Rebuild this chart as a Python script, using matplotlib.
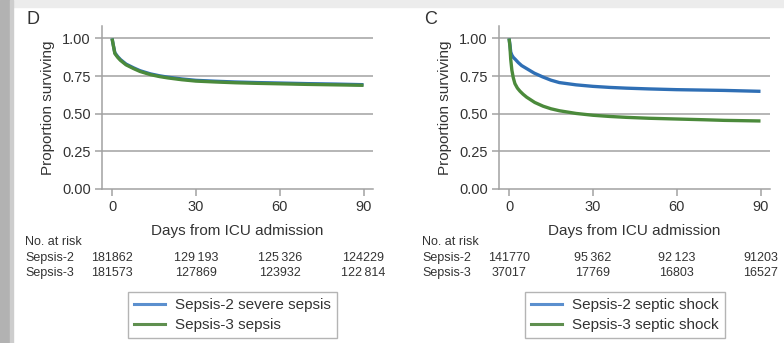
import numpy as np
import matplotlib
matplotlib.use('Agg')
import matplotlib.pyplot as plt
from matplotlib.patches import Rectangle
from matplotlib.transforms import blended_transform_factory

plt.rcParams['font.family'] = ['Liberation Sans', 'DejaVu Sans']

# panel D: severe sepsis vs sepsis
days_d = [0, 0.5, 1, 2, 3, 5, 7.7, 10, 13.7, 17, 20, 25, 30, 37, 44, 52, 60, 70, 80, 90]
d_sepsis2 = [1.0, 0.95, 0.905, 0.88, 0.86, 0.83, 0.805, 0.786, 0.765, 0.752, 0.743,
             0.731, 0.722, 0.716, 0.711, 0.707, 0.704, 0.700, 0.697, 0.693]
d_sepsis3 = [1.0, 0.95, 0.90, 0.875, 0.855, 0.825, 0.80, 0.781, 0.76, 0.747, 0.738,
             0.726, 0.717, 0.711, 0.706, 0.702, 0.699, 0.695, 0.692, 0.689]

# panel C: septic shock
days_c2 = [0, 0.3, 0.6, 1, 1.5, 2.3, 3.3, 4.5, 6.3, 9, 12, 15, 18, 24, 30, 36, 42,
           50, 60, 70, 77, 90]
c_sepsis2 = [1.0, 0.96, 0.91, 0.89, 0.875, 0.86, 0.84, 0.82, 0.80, 0.77, 0.745, 0.723,
             0.707, 0.692, 0.682, 0.675, 0.67, 0.665, 0.66, 0.657, 0.655, 0.649]
days_c3 = [0, 0.3, 0.6, 1, 1.5, 2.1, 3, 3.9, 5, 6.3, 9.2, 12.2, 15, 18, 24, 30, 36,
           42, 50, 60, 70, 77, 90]
c_sepsis3 = [1.0, 0.95, 0.86, 0.79, 0.74, 0.70, 0.67, 0.65, 0.63, 0.61, 0.575, 0.55,
             0.533, 0.52, 0.502, 0.49, 0.482, 0.476, 0.47, 0.465, 0.46, 0.456, 0.452]

risk_days = [0, 30, 60, 90]
d_risk2 = ['181862', '129\u2009193', '125\u2009326', '124229']
d_risk3 = ['181573', '127869', '123932', '122\u2009814']
c_risk2 = ['141770', '95\u2009362', '92\u2009123', '91203']
c_risk3 = ['37017', '17769', '16803', '16527']

BLUE = '#2f6fb5'
GREEN = '#4b8a3b'
GRAY = '#a2a2a2'
TXT = '#333333'

W, H = 784, 343
fig = plt.figure(figsize=(W / 100, H / 100), dpi=100)

# gray page edges from the source scan
fig.patches.append(Rectangle((0, (H - 7) / H), 1, 7 / H, transform=fig.transFigure,
                             color='#ececec', zorder=-5))
fig.patches.append(Rectangle((0, 0), 10 / W, 1, transform=fig.transFigure,
                             color='#b2b2b2', zorder=-4))
fig.patches.append(Rectangle((10 / W, 0), 3 / W, 1, transform=fig.transFigure,
                             color='#cdcdcd', zorder=-4))


def px_axes(left, top, width, height):
    return fig.add_axes([left / W, (H - top - height) / H, width / W, height / H])


def panel(left, letter, curves, risk2, risk3, labels):
    ax = px_axes(left, 26, 271, 163)
    for (x, y), c in zip(curves, [BLUE, GREEN]):
        ax.plot(x, y, color=c, lw=2.4, solid_capstyle='butt')
    ax.set_xlim(-3.6, 93.4)
    ax.set_ylim(0, 1.083)
    ax.set_xticks([0, 30, 60, 90])
    ax.set_yticks([0, 0.25, 0.5, 0.75, 1.0])
    ax.set_yticklabels(['0.00', '0.25', '0.50', '0.75', '1.00'])
    for v in [0.25, 0.5, 0.75, 1.0]:
        ax.axhline(v, color=GRAY, lw=1.1, zorder=0)
    for s in ['top', 'right']:
        ax.spines[s].set_visible(False)
    for s in ['left', 'bottom']:
        ax.spines[s].set_color(GRAY)
        ax.spines[s].set_linewidth(1.1)
    ax.tick_params(colors=GRAY, labelcolor=TXT, labelsize=10.5, length=5, width=1.1,
                   pad=3)
    ax.set_ylabel('Proportion surviving', fontsize=11, color=TXT, labelpad=5)
    ax.set_xlabel('Days from ICU admission', fontsize=11, color=TXT, labelpad=7)
    ax.patch.set_visible(False)

    fig.text((left - 75) / W, (H - 20) / H, letter, fontsize=13, color=TXT,
             va='center', ha='left')

    tr = blended_transform_factory(ax.transData, fig.transFigure)
    rows = [('No. at risk', 242), ('Sepsis-2', 258), ('Sepsis-3', 273)]
    for name, yp in rows:
        fig.text((left - 77) / W, (H - yp) / H, name, fontsize=9, color=TXT,
                 va='center')
    for d, a, b in zip(risk_days, risk2, risk3):
        ax.text(d, (H - 258) / H, a, transform=tr, fontsize=9, color=TXT,
                ha='center', va='center')
        ax.text(d, (H - 273) / H, b, transform=tr, fontsize=9, color=TXT,
                ha='center', va='center')

    h1, = ax.plot([], [], color='#5b8fce', lw=2.2)
    h2, = ax.plot([], [], color='#5f8f4f', lw=2.2)
    leg = fig.legend([h1, h2], labels, loc='upper left',
                     bbox_to_anchor=((left + 26) / W, (H - 292) / H),
                     fontsize=11, frameon=True, fancybox=False, handlelength=2.0,
                     borderpad=0.4, labelspacing=0.4, handletextpad=0.7,
                     borderaxespad=0)
    leg.get_frame().set_edgecolor(GRAY)
    leg.get_frame().set_linewidth(1.0)
    for t in leg.get_texts():
        t.set_color(TXT)
    return ax


panel(102, 'D', [(days_d, d_sepsis2), (days_d, d_sepsis3)], d_risk2, d_risk3,
      ['Sepsis-2 severe sepsis', 'Sepsis-3 sepsis'])
panel(499, 'C', [(days_c2, c_sepsis2), (days_c3, c_sepsis3)], c_risk2, c_risk3,
      ['Sepsis-2 septic shock', 'Sepsis-3 septic shock'])

fig.savefig('out.png', dpi=100)
